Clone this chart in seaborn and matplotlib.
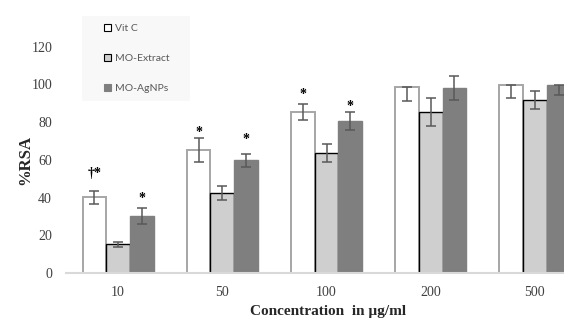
import numpy as np
import pandas as pd
import matplotlib
matplotlib.use("Agg")
import matplotlib.pyplot as plt
from matplotlib.patches import Patch, Rectangle
import seaborn as sns

# ---- data ----
concentrations = ["10", "50", "100", "200", "500"]
series = ["Vit C", "MO-Extract", "MO-AgNPs"]
vitc = [40.2, 65.1, 85.2, 98.5, 99.6]
extract = [15.2, 42.3, 63.5, 85.2, 91.6]
agnps = [30.2, 59.8, 80.6, 98.0, 99.6]
vitc_err_lo = [3.5, 6.5, 4.2, 7.3, 7.0]
vitc_err_hi = [3.5, 6.5, 4.2, 0.0, 0.0]
extract_err = [1.5, 3.7, 4.8, 7.4, 4.7]
agnps_err_lo = [4.3, 3.5, 4.8, 6.4, 5.0]
agnps_err_hi = [4.3, 3.5, 4.8, 6.4, 0.0]
# significance marks: (series, concentration, label, height)
marks = [("Vit C", "10", "\u2020*", 53.0),
         ("MO-AgNPs", "10", "*", 39.5),
         ("Vit C", "50", "*", 74.5),
         ("MO-AgNPs", "50", "*", 71.0),
         ("Vit C", "100", "*", 94.5),
         ("MO-AgNPs", "100", "*", 88.5)]
yticks = [0, 20, 40, 60, 80, 100, 120]

df = pd.DataFrame({
    "conc": concentrations * 3,
    "series": [s for s in series for _ in concentrations],
    "rsa": vitc + extract + agnps,
})

sns.set_theme(style="white")
plt.rcParams["font.family"] = ["Liberation Serif", "DejaVu Serif"]

fig = plt.figure(figsize=(5.64, 3.2), dpi=100)
ax = fig.add_axes([66 / 564, 47 / 320, 521 / 564, 264 / 320])

face = {"Vit C": "#ffffff", "MO-Extract": "#d0cfd0", "MO-AgNPs": "#7f7f7f"}
edge = {"Vit C": "#a6a6a6", "MO-Extract": "#000000", "MO-AgNPs": "#7f7f7f"}

sns.barplot(data=df, x="conc", y="rsa", hue="series", order=concentrations,
            hue_order=series, palette=face, width=0.68, errorbar=None,
            saturation=1, ax=ax, legend=False)

errs = {"Vit C": (vitc_err_lo, vitc_err_hi),
        "MO-Extract": (extract_err, extract_err),
        "MO-AgNPs": (agnps_err_lo, agnps_err_hi)}
centers = {}
for s, cont in zip(series, ax.containers):
    lo, hi = errs[s]
    xs, ys = [], []
    for i, bar in enumerate(cont):
        bar.set_edgecolor(edge[s])
        bar.set_linewidth(1.4 if s == "Vit C" else 1.0)
        cx = bar.get_x() + bar.get_width() / 2
        xs.append(cx)
        ys.append(bar.get_height())
        centers[(s, concentrations[i])] = cx
    ax.errorbar(xs, ys, yerr=[lo, hi], fmt="none", ecolor="#595959",
                elinewidth=1.1, capsize=3.5, capthick=1.1, zorder=5)

for s, c, lab, h in marks:
    ax.text(centers[(s, c)], h, lab, ha="center", va="center",
            fontsize=10, fontweight="bold", color="black", zorder=6)

ax.set_xlim(-0.5, 4.5)
ax.set_ylim(0, 140)
ax.set_yticks(yticks)
ax.tick_params(axis="both", length=0, labelsize=10, colors="#404040")
ax.tick_params(axis="y", pad=10)
ax.tick_params(axis="x", pad=9.5)
for sp in ["top", "right", "left"]:
    ax.spines[sp].set_visible(False)
ax.spines["bottom"].set_color("#d9d9d9")
ax.spines["bottom"].set_linewidth(1.5)

ax.set_ylabel("%RSA", fontsize=12, fontweight="bold", color="#262626")
ax.yaxis.set_label_coords(-0.063, 0.428)
ax.set_xlabel("Concentration  in \u00b5g/ml", fontsize=11, fontweight="bold",
              color="#262626")
ax.xaxis.set_label_coords(0.503, -0.122)

# legend box
fig.patches.append(Rectangle((82 / 564, 1 - 101 / 320), 108 / 564, 85 / 320,
                             transform=fig.transFigure, facecolor="#f8f8f8",
                             edgecolor="none", zorder=0))
handles = [Patch(facecolor=face[s], edgecolor=("#000000" if s != "MO-AgNPs" else face[s]),
                 linewidth=0.8, label=s) for s in series]
leg = fig.legend(handles=handles, loc="upper left",
                 bbox_to_anchor=(95 / 564, 1 - 15 / 320),
                 frameon=False, handlelength=0.6, handleheight=0.6,
                 handletextpad=0.4, labelspacing=2.0,
                 prop={"family": "Lato", "size": 7.5})
for t in leg.get_texts():
    t.set_color("#595959")

fig.savefig("out.png", dpi=100)
